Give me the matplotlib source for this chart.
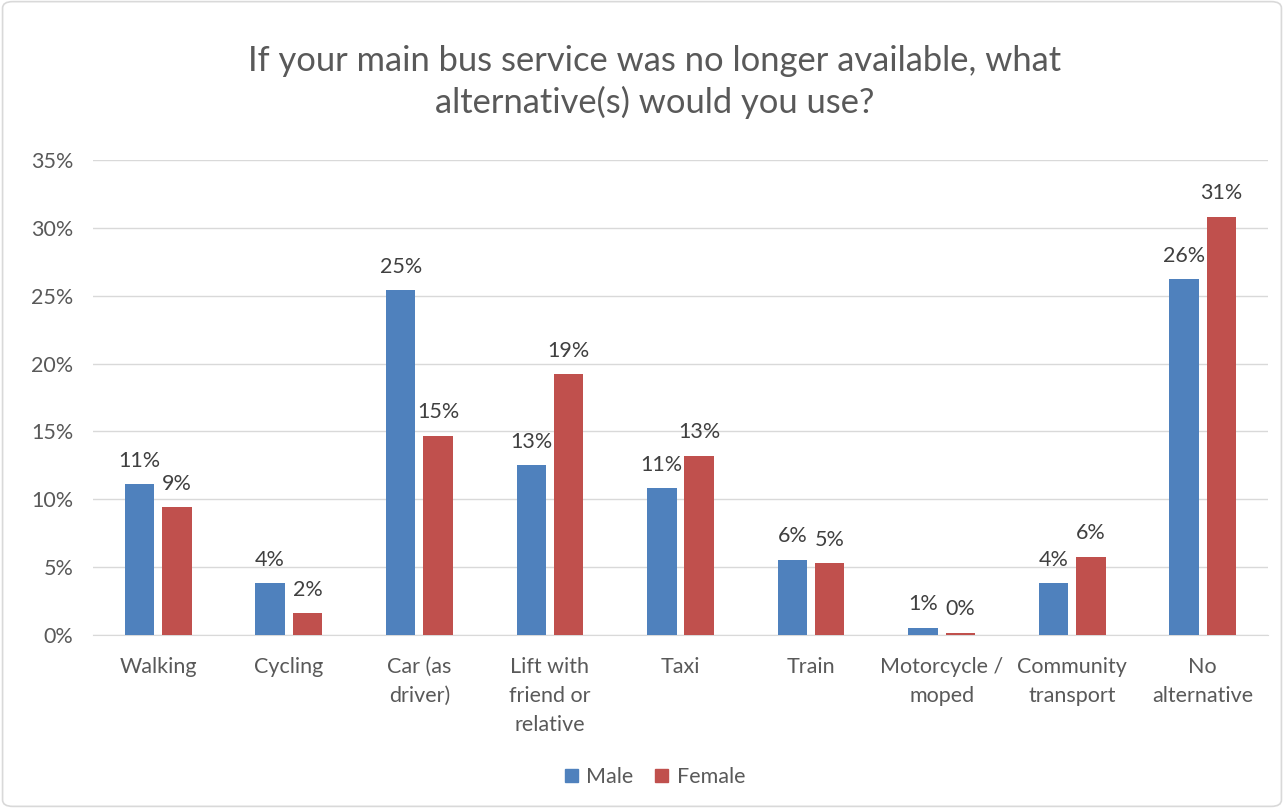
import matplotlib
matplotlib.use("Agg")
import matplotlib.pyplot as plt
from matplotlib.patches import FancyBboxPatch, Patch
import numpy as np

categories = ["Walking", "Cycling", "Car (as\ndriver)", "Lift with\nfriend or\nrelative", "Taxi",
              "Train", "Motorcycle /\nmoped", "Community\ntransport", "No\nalternative"]
male = [11.1, 3.8, 25.4, 12.5, 10.8, 5.55, 0.55, 3.8, 26.2]
female = [9.4, 1.6, 14.7, 19.2, 13.2, 5.3, 0.15, 5.75, 30.8]
yticks = [0, 5, 10, 15, 20, 25, 30, 35]
title = "If your main bus service was no longer available, what\nalternative(s) would you use?"

plt.rcParams['font.family'] = ['Lato', 'DejaVu Sans']
blue = "#4F81BD"
red = "#C0504D"
grey_text = "#595959"

fig = plt.figure(figsize=(12.84, 8.08), dpi=100)
fig.patches.append(FancyBboxPatch((0.002, 0.002), 0.996, 0.996, boxstyle="round,pad=0,rounding_size=0.008",
                                  transform=fig.transFigure, fill=False, edgecolor="#D9D9D9", linewidth=1.2))
ax = fig.add_axes([93/1284, 1-635/808, (1268-93)/1284, (635-160)/808])

x = np.arange(len(categories))
w = 0.225
off = 0.143
b1 = ax.bar(x - off, male, w, color=blue, label="Male", zorder=3)
b2 = ax.bar(x + off, female, w, color=red, label="Female", zorder=3)
for bars, vals in ((b1, male), (b2, female)):
    for rect, v in zip(bars, vals):
        ax.text(rect.get_x() + rect.get_width()/2, v + 1.0, f"{round(v + 1e-9):.0f}%",
                ha="center", va="bottom", fontsize=15.5, color="#404040")

ax.set_xlim(-0.5, len(categories) - 0.5)
ax.set_ylim(0, 35)
ax.set_yticks(yticks)
ax.set_yticklabels([f"{t}%" for t in yticks], fontsize=15.5, color=grey_text)
ax.set_xticks(x)
ax.set_xticklabels(categories, fontsize=15.5, color=grey_text, linespacing=1.57)
ax.tick_params(axis="both", length=0)
ax.tick_params(axis="x", pad=16)
ax.tick_params(axis="y", pad=14)
ax.grid(axis="y", color="#D9D9D9", linewidth=1, zorder=0)
for s in ("top", "right", "left"):
    ax.spines[s].set_visible(False)
ax.spines["bottom"].set_color("#D9D9D9")

fig.text(655/1284, 1-82/808, title, ha="center", va="center", fontsize=24.8, color=grey_text, linespacing=1.3)

handles = [Patch(color=blue), Patch(color=red)]
fig.legend(handles, ["Male", "Female"], loc="center", bbox_to_anchor=(655/1284, 1-777/808), ncol=2,
           frameon=False, fontsize=15.5, handlelength=0.6, handleheight=0.6, handletextpad=0.4,
           columnspacing=1.0, labelcolor=grey_text)

fig.savefig("out.png", dpi=100)
